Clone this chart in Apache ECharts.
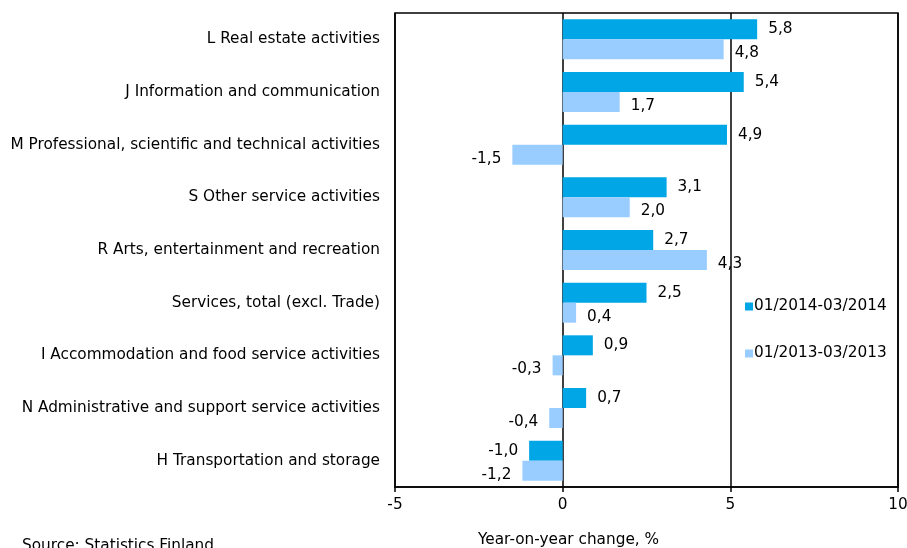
<!DOCTYPE html>
<html>
<head>
<meta charset="utf-8">
<script src="https://cdn.jsdelivr.net/npm/echarts@6/dist/echarts.min.js"></script>
<style>html,body{margin:0;padding:0;background:#fff}#c{width:907px;height:548px}</style>
</head>
<body>
<div id="c"></div>
<script>
var categories = [
  "L Real estate activities",
  "J Information and communication",
  "M Professional, scientific and technical activities",
  "S Other service activities",
  "R Arts, entertainment and recreation",
  "Services, total (excl. Trade)",
  "I Accommodation and food service activities",
  "N Administrative and support service activities",
  "H Transportation and storage"
];
var series2014 = [5.8, 5.4, 4.9, 3.1, 2.7, 2.5, 0.9, 0.7, -1.0];
var series2013 = [4.8, 1.7, -1.5, 2.0, 4.3, 0.4, -0.3, -0.4, -1.2];
var seriesNames = ["01/2014-03/2014", "01/2013-03/2013"];
var xTicks = [-5, 0, 5, 10];

var FONT = "DejaVu Sans";
var FS = 15.3;
function fmt(v) { return String(v.toFixed(1)).replace('.', ','); }
function labelData(arr) {
  return arr.map(function (v) {
    return {
      value: v,
      label: { position: v < 0 ? 'left' : 'right' }
    };
  });
}
var chart = echarts.init(document.getElementById('c'));
chart.setOption({
  animation: false,
  backgroundColor: '#fff',
  textStyle: { fontFamily: FONT, color: '#000' },
  grid: { left: 395, right: 9, top: 13, bottom: 61, show: true, borderColor: '#000', borderWidth: 1.5, outerBoundsMode: 'none', containLabel: false },
  legend: {
    orient: 'vertical',
    left: 740, top: 294,
    itemWidth: 8, itemHeight: 8, itemGap: 32,
    icon: 'rect',
    textStyle: { fontFamily: FONT, fontSize: FS, color: '#000', padding: [0, 0, 0, -4] },
    data: seriesNames
  },
  xAxis: {
    type: 'value', min: xTicks[0], max: xTicks[xTicks.length - 1], interval: 5,
    axisLine: { show: true, lineStyle: { color: '#000', width: 1.5 } },
    axisTick: { show: true, length: 5, lineStyle: { color: '#000', width: 1.5 } },
    axisLabel: { fontSize: FS, color: '#000', fontFamily: FONT, margin: 11 },
    splitLine: { show: true, lineStyle: { color: '#000', width: 1.5 } }
  },
  yAxis: {
    type: 'category', inverse: true, data: categories,
    axisLine: { show: false }, axisTick: { show: false },
    axisLabel: { fontSize: FS, color: '#000', fontFamily: FONT, margin: 15 }
  },
  graphic: [{
    type: 'text', left: 22, top: 539,
    style: { text: 'Source: Statistics Finland', font: FS + 'px "DejaVu Sans"', fill: '#000' }
  }, {
    type: 'text', left: 478, top: 533,
    style: { text: 'Year-on-year change, %', font: FS + 'px "DejaVu Sans"', fill: '#000' }
  }],
  series: [
    {
      name: seriesNames[0], type: 'bar', data: labelData(series2014),
      itemStyle: { color: '#00a6e5' },
      barGap: '0%', barCategoryGap: '24%',
      label: { show: true, fontSize: FS, color: '#000', fontFamily: FONT, distance: 11,
        formatter: function (p) { return fmt(p.value); } }
    },
    {
      name: seriesNames[1], type: 'bar', data: labelData(series2013),
      itemStyle: { color: '#99ccff' },
      barGap: '0%', barCategoryGap: '24%',
      label: { show: true, fontSize: FS, color: '#000', fontFamily: FONT, distance: 11, offset: [0, 4],
        formatter: function (p) { return fmt(p.value); } }
    }
  ]
});
</script>
</body>
</html>
